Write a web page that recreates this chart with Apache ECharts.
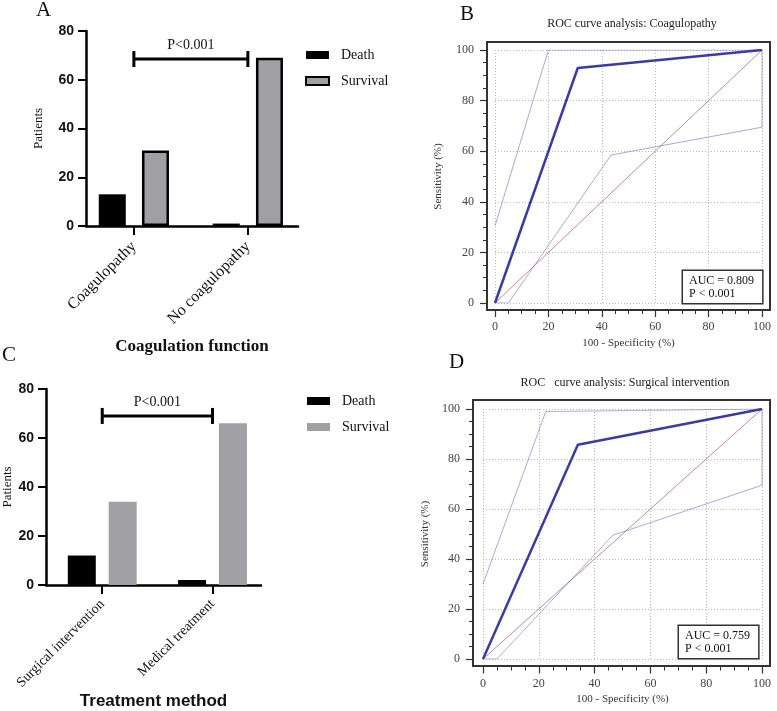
<!DOCTYPE html>
<html>
<head>
<meta charset="utf-8">
<script src="https://cdn.jsdelivr.net/npm/echarts@6/dist/echarts.min.js"></script>
<style>
html, body { margin: 0; padding: 0; background: #fff; }
#main { width: 777px; height: 711px; }
</style>
</head>
<body>
<div id="main"></div>
<script>
// bar panels (A, C)
const coagCategories = ['Coagulopathy', 'No coagulopathy']
const coagDeath = [13, 1]
const coagSurvival = [31, 69]
const treatCategories = ['Surgical intervention', 'Medical treatment']
const treatDeath = [12, 2]
const treatSurvival = [34, 66]
const pValueText = 'P<0.001'
const bracketCoag = [[0, 1, 68.5]]
const bracketTreat = [[0, 1, 69]]

// ROC panels (B, D): [100 - specificity, sensitivity]
const rocCoag = [[0, 0], [31, 92.9], [100, 100]]
const rocCoagUpper = [[0, 30.5], [20, 100], [100, 100]]
const rocCoagLower = [[0, 0], [5, 0], [43.5, 58.5], [100, 69.5], [100, 100]]
const rocSurg = [[0, 0], [34, 85.7], [100, 100]]
const rocSurgUpper = [[0, 30], [22.5, 99], [100, 100]]
const rocSurgLower = [[0, 0], [5, 0], [46.5, 49.5], [100, 69.5], [100, 100]]
const diagonal = [[0, 0], [100, 100]]
const aucCoag = 'AUC = 0.809\nP < 0.001'
const aucSurg = 'AUC = 0.759\nP < 0.001'

const SERIF = '"Liberation Serif", "Times New Roman", serif'
const SANS = '"Liberation Sans", Arial, sans-serif'
const GRAY = '#a0a0a4'

const toPairs = arr => arr.map((v, i) => [i, v])

function renderBracket(params, api) {
  const y = api.value(2)
  const p0 = api.coord([api.value(0), y])
  const p1 = api.coord([api.value(1), y])
  const cap = 8
  const st = { stroke: '#000', lineWidth: 3 }
  return {
    type: 'group',
    children: [
      { type: 'line', shape: { x1: p0[0], y1: p0[1], x2: p1[0], y2: p1[1] }, style: st },
      { type: 'line', shape: { x1: p0[0], y1: p0[1] - cap, x2: p0[0], y2: p0[1] + cap }, style: st },
      { type: 'line', shape: { x1: p1[0], y1: p1[1] - cap, x2: p1[0], y2: p1[1] + cap }, style: st },
      {
        type: 'text',
        x: (p0[0] + p1[0]) / 2,
        y: p0[1] - 7,
        style: { text: pValueText, font: '14px ' + SERIF, fill: '#111', align: 'center', verticalAlign: 'bottom' }
      }
    ]
  }
}

function barXAxis(grid, min, max, cats, fontSize, margin, name, nameStyle, nameGap) {
  return {
    type: 'value',
    gridIndex: grid,
    min: min,
    max: max,
    axisLine: { show: true, onZero: false, lineStyle: { color: '#000', width: 2.5 } },
    axisTick: { show: true, customValues: [0, 1], length: 9, lineStyle: { color: '#000', width: 2 } },
    axisLabel: {
      customValues: [0, 1],
      formatter: v => cats[Math.round(v)],
      rotate: 45,
      margin: margin,
      fontFamily: SERIF,
      fontSize: fontSize,
      color: '#111'
    },
    splitLine: { show: false },
    name: name,
    nameLocation: 'middle',
    nameGap: nameGap,
    nameTextStyle: nameStyle
  }
}

function barYAxis(grid, nameGap) {
  return {
    type: 'value',
    gridIndex: grid,
    min: 0,
    max: 80,
    interval: 20,
    axisLine: { show: true, onZero: false, lineStyle: { color: '#000', width: 2.5 } },
    axisTick: { show: true, length: 8, lineStyle: { color: '#000', width: 2 } },
    axisLabel: { margin: 12, fontFamily: SANS, fontWeight: 'bold', fontSize: 14, color: '#111' },
    splitLine: { show: false },
    name: 'Patients',
    nameLocation: 'middle',
    nameGap: nameGap,
    nameTextStyle: { fontFamily: SERIF, fontSize: 13, color: '#111' }
  }
}

function rocAxis(dim, grid, offset, name, nameGap) {
  return {
    type: 'value',
    gridIndex: grid,
    min: 0,
    max: 100,
    interval: 20,
    offset: offset,
    axisLine: { show: false, onZero: false },
    axisTick: { show: true, length: 7, lineStyle: { color: '#333', width: 1.2 } },
    minorTick: { show: true, splitNumber: 4, length: 4, lineStyle: { color: '#333', width: 1 } },
    axisLabel: { margin: dim === 'x' ? 11 : 13, fontFamily: SERIF, fontSize: 12, color: '#444' },
    splitLine: { show: true, lineStyle: { color: '#bbb', type: [1, 2], width: 1 } },
    name: name,
    nameLocation: 'middle',
    nameGap: nameGap,
    nameTextStyle: { fontFamily: SERIF, fontSize: 11, color: '#333' }
  }
}

function rocLine(xi, data, color, width) {
  return {
    type: 'line',
    xAxisIndex: xi,
    yAxisIndex: xi,
    data: data,
    symbol: 'none',
    silent: true,
    lineStyle: { color: color, width: width }
  }
}

function aucBox(x, y, text) {
  return {
    type: 'text', z: 10, x: x, y: y,
    style: {
      text: text, font: '12px ' + SERIF, fill: '#111', align: 'left', verticalAlign: 'bottom',
      lineHeight: 13, padding: [3, 8, 3, 6], backgroundColor: '#fff', borderColor: '#333', borderWidth: 1.5
    }
  }
}

const chart = echarts.init(document.getElementById('main'), null, { renderer: 'canvas' })

chart.setOption({
  animation: false,
  backgroundColor: '#fff',
  textStyle: { fontFamily: SERIF },
  grid: [
    { left: 86, top: 31, width: 212, height: 195, containLabel: false },
    { left: 495, top: 50, width: 267, height: 253, containLabel: false },
    { left: 46, top: 389, width: 215, height: 198, containLabel: false },
    { left: 483, top: 409, width: 279, height: 250, containLabel: false }
  ],
  xAxis: [
    barXAxis(0, -0.42, 1.44, coagCategories, 16, 18, 'Coagulation function',
      { fontFamily: SERIF, fontWeight: 'bold', fontSize: 17, color: '#111' }, 112),
    rocAxis('x', 1, 7, '100 - Specificity (%)', 28),
    barXAxis(2, -0.51, 1.44, treatCategories, 14, 17, 'Treatment method',
      { fontFamily: SANS, fontWeight: 'bold', fontSize: 17, color: '#111' }, 105),
    rocAxis('x', 3, 7.5, '100 - Specificity (%)', 27)
  ],
  yAxis: [
    barYAxis(0, 41),
    rocAxis('y', 1, 8, 'Sensitivity (%)', 43),
    barYAxis(2, 27),
    rocAxis('y', 3, 10, 'Sensitivity (%)', 42)
  ],
  legend: [
    {
      left: 305, top: 48, orient: 'vertical', padding: 0,
      itemWidth: 23, itemHeight: 8, itemGap: 12, icon: 'rect', selectedMode: false,
      textStyle: { fontFamily: SERIF, fontSize: 14, color: '#111', padding: [0, 0, 0, 7] },
      data: [
        { name: 'Death', itemStyle: { color: '#000' } },
        { name: 'Survival', itemStyle: { color: GRAY, borderColor: '#000', borderWidth: 2 } }
      ]
    },
    {
      left: 307, top: 394, orient: 'vertical', padding: 0,
      itemWidth: 23, itemHeight: 8, itemGap: 12, icon: 'rect', selectedMode: false,
      textStyle: { fontFamily: SERIF, fontSize: 14, color: '#111', padding: [0, 0, 0, 7] },
      data: [
        { name: 'Death', itemStyle: { color: '#000', borderWidth: 0 } },
        { name: 'Survival', itemStyle: { color: GRAY, borderWidth: 0 } }
      ]
    }
  ],
  series: [
    {
      name: 'Death', type: 'bar', xAxisIndex: 0, yAxisIndex: 0,
      data: toPairs(coagDeath), barWidth: 27, barGap: '60%',
      itemStyle: { color: '#000' }
    },
    {
      name: 'Survival', type: 'bar', xAxisIndex: 0, yAxisIndex: 0,
      data: toPairs(coagSurvival), barWidth: 27, barGap: '60%',
      itemStyle: { color: GRAY, borderColor: '#000', borderWidth: 2.5 }
    },
    {
      type: 'custom', xAxisIndex: 0, yAxisIndex: 0, renderItem: renderBracket,
      encode: { x: [0, 1], y: 2 }, data: bracketCoag, silent: true
    },
    {
      name: 'Death', type: 'bar', xAxisIndex: 2, yAxisIndex: 2,
      data: toPairs(treatDeath), barWidth: 28, barGap: '46%',
      itemStyle: { color: '#000' }
    },
    {
      name: 'Survival', type: 'bar', xAxisIndex: 2, yAxisIndex: 2,
      data: toPairs(treatSurvival), barWidth: 28, barGap: '46%',
      itemStyle: { color: GRAY }
    },
    {
      type: 'custom', xAxisIndex: 2, yAxisIndex: 2, renderItem: renderBracket,
      encode: { x: [0, 1], y: 2 }, data: bracketTreat, silent: true
    },
    rocLine(1, diagonal, '#c58a8a', 1),
    rocLine(1, rocCoagUpper, 'rgba(110,110,210,0.6)', 1),
    rocLine(1, rocCoagLower, 'rgba(110,110,210,0.6)', 1),
    rocLine(1, rocCoag, '#3a3aa8', 2.5),
    rocLine(3, diagonal, '#c58a8a', 1),
    rocLine(3, rocSurgUpper, 'rgba(110,110,210,0.6)', 1),
    rocLine(3, rocSurgLower, 'rgba(110,110,210,0.6)', 1),
    rocLine(3, rocSurg, '#3a3aa8', 2.5)
  ],
  graphic: [
    { type: 'text', x: 36, y: 0, style: { text: 'A', font: '21px ' + SERIF, fill: '#111' } },
    { type: 'text', x: 460, y: 4, style: { text: 'B', font: '21px ' + SERIF, fill: '#111' } },
    { type: 'text', x: 2, y: 345, style: { text: 'C', font: '21px ' + SERIF, fill: '#111' } },
    { type: 'text', x: 449, y: 352, style: { text: 'D', font: '21px ' + SERIF, fill: '#111' } },
    {
      type: 'text', x: 632, y: 24,
      style: { text: 'ROC curve analysis: Coagulopathy', font: '12px ' + SERIF, fill: '#222', align: 'center', verticalAlign: 'middle' }
    },
    {
      type: 'text', x: 625, y: 383,
      style: { text: 'ROC   curve analysis: Surgical intervention', font: '12px ' + SERIF, fill: '#222', align: 'center', verticalAlign: 'middle' }
    },
    {
      type: 'rect', z: 5, silent: true,
      shape: { x: 487, y: 42, width: 283, height: 268 },
      style: { fill: 'none', stroke: '#333', lineWidth: 2 }
    },
    {
      type: 'rect', z: 5, silent: true,
      shape: { x: 473, y: 400, width: 297, height: 266 },
      style: { fill: 'none', stroke: '#333', lineWidth: 2 }
    },
    aucBox(683, 303, aucCoag),
    aucBox(679, 658, aucSurg)
  ]
})
</script>
</body>
</html>
